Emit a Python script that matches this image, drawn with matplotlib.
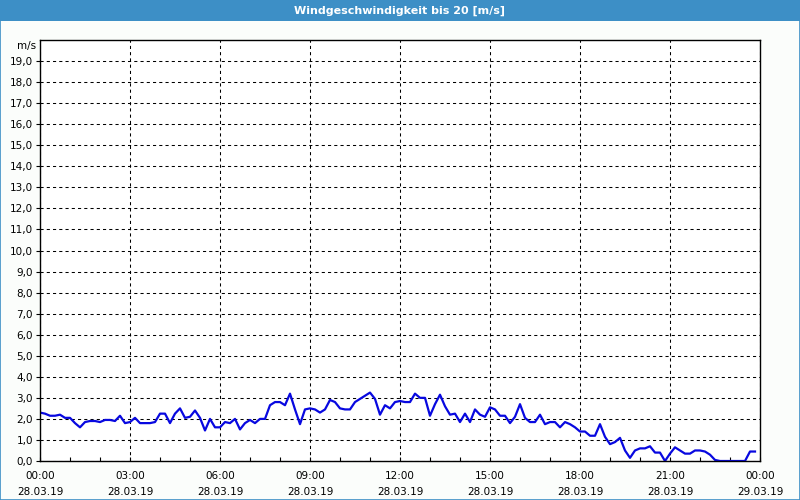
import matplotlib
matplotlib.use("Agg")
import matplotlib.pyplot as plt
import matplotlib.dates as mdates
import pandas as pd

# 10-minute wind speed readings, 28.03.19 00:00 .. 23:50
speed = [
    2.3, 2.25, 2.15, 2.15, 2.2, 2.05, 2.05, 1.8, 1.6, 1.85, 1.9, 1.9,
    1.85, 1.95, 1.95, 1.9, 2.15, 1.8, 1.85, 2.05, 1.8, 1.8, 1.8, 1.85,
    2.25, 2.25, 1.8, 2.25, 2.5, 2.05, 2.1, 2.4, 2.05, 1.45, 2.0, 1.6,
    1.6, 1.85, 1.8, 2.0, 1.5, 1.8, 1.95, 1.8, 2.0, 2.0, 2.65, 2.8,
    2.8, 2.65, 3.2, 2.45, 1.75, 2.45, 2.5, 2.45, 2.3, 2.45, 2.9, 2.8,
    2.5, 2.45, 2.45, 2.8, 2.95, 3.1, 3.25, 2.95, 2.2, 2.65, 2.5, 2.8,
    2.85, 2.8, 2.8, 3.2, 3.0, 3.0, 2.15, 2.7, 3.15, 2.6, 2.2, 2.25,
    1.85, 2.25, 1.85, 2.45, 2.2, 2.1, 2.55, 2.45, 2.15, 2.15, 1.8, 2.1,
    2.7, 2.05, 1.85, 1.85, 2.2, 1.75, 1.85, 1.85, 1.6, 1.85, 1.75, 1.6,
    1.4, 1.4, 1.2, 1.2, 1.75, 1.15, 0.8, 0.9, 1.1, 0.5, 0.15, 0.5,
    0.6, 0.6, 0.7, 0.4, 0.4, 0.0, 0.35, 0.65, 0.5, 0.35, 0.35, 0.5,
    0.5, 0.45, 0.3, 0.05, 0.0, 0.0, 0.0, 0.0, 0.0, 0.0, 0.45, 0.45,
]
times = pd.date_range("2019-03-28 00:00", periods=len(speed), freq="10min")
start = pd.Timestamp("2019-03-28 00:00")
end = pd.Timestamp("2019-03-29 00:00")

title = "Windgeschwindigkeit bis 20 [m/s]"
unit = "m/s"
y_max = 20

plt.rcParams["font.family"] = ["DejaVu Sans"]

fig = plt.figure(figsize=(8, 5), dpi=100, facecolor="#fbfdfb")

# title bar
fig.patches.append(plt.Rectangle((0, 1 - 21 / 500), 1, 21 / 500, transform=fig.transFigure,
                                 facecolor="#3d8fc6", edgecolor="none", zorder=0))
fig.patches.append(plt.Rectangle((0.0006, 0.001), 0.9988, 0.998, transform=fig.transFigure,
                                 facecolor="none", edgecolor="#3d8fc6", linewidth=1.2, zorder=1))
fig.text(0.5, 1 - 11 / 500, title, color="white", fontsize=8, fontweight="bold",
         ha="center", va="center")

ax = fig.add_axes([40 / 800, 39 / 500, 720 / 800, 421 / 500])
ax.set_facecolor("white")
ax.plot(times, speed, color="#0808e0", linewidth=1.6)

ax.set_xlim(start, end)
ax.set_ylim(0, y_max)

ax.xaxis.set_major_locator(mdates.HourLocator(byhour=range(0, 24, 3)))
ax.xaxis.set_minor_locator(mdates.HourLocator())
ax.xaxis.set_major_formatter(mdates.DateFormatter("%H:%M\n%d.%m.%y"))
ax.set_yticks(range(0, y_max))
ax.set_yticklabels([f"{v},0" for v in range(0, y_max)])

ax.grid(True, which="major", color="black", linestyle=(0, (3, 3)), linewidth=0.75)
ax.tick_params(axis="x", which="both", direction="in", length=3, width=0.8,
               labelsize=7.5, pad=7)
ax.tick_params(axis="y", direction="out", length=3, width=0.8, labelsize=7.5, pad=2)
for lbl in ax.get_xticklabels():
    lbl.set_linespacing(1.75)
for s in ax.spines.values():
    s.set_linewidth(1)

fig.text(36 / 800, 1 - 46 / 500, unit, fontsize=7.5, ha="right", va="center")

fig.savefig("out.png", dpi=100, facecolor=fig.get_facecolor())
plt.close(fig)
